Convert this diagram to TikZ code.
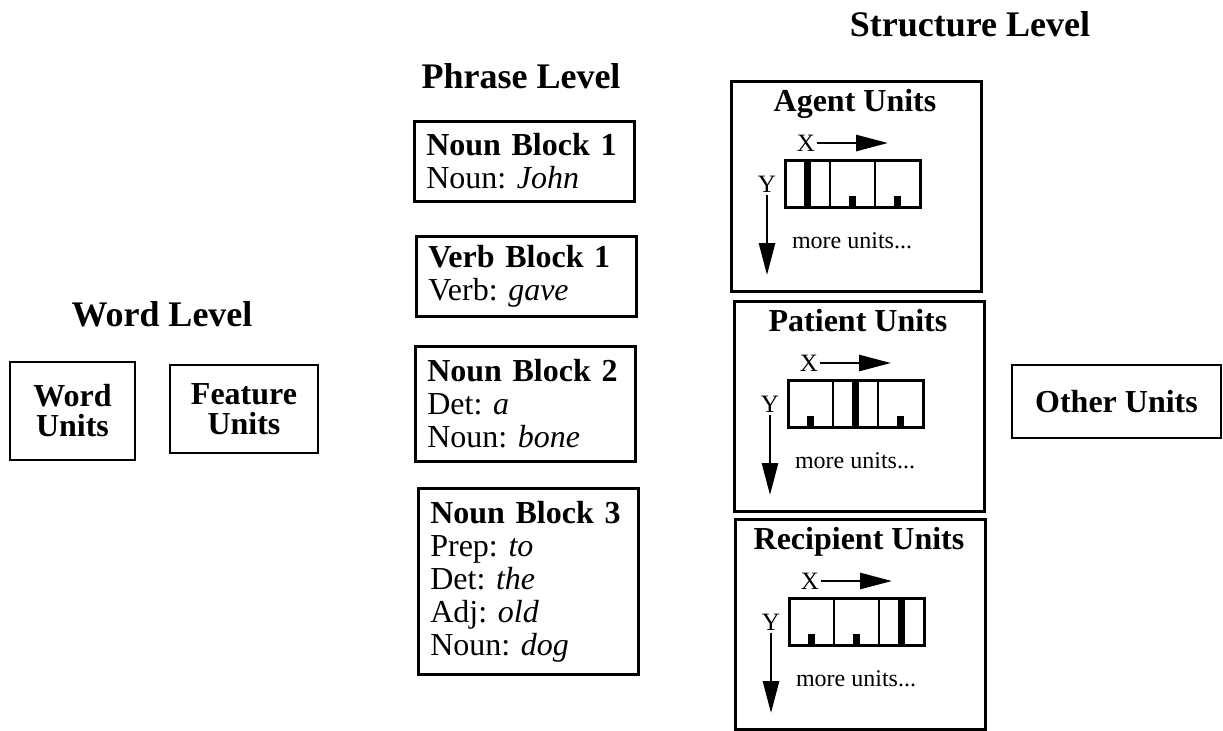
\documentclass[tikz,border=0pt]{standalone}
\usepackage{fontspec}
\setmainfont{Liberation Serif}
\usetikzlibrary{arrows.meta,positioning}
\frenchspacing

\newcommand{\bodysize}{\fontsize{16}{16.5}\selectfont}
\newcommand{\headsize}{\fontsize{18}{20}\selectfont\bfseries}

% one role block of the structure level: name, corner, title, tall cell
\newcommand{\roleunits}[5]{%
\begin{scope}[shift={(#2,#3)}]
  \node[rolebox, anchor=north west] (#1) at (0,0) {};
  \node[boxtitle, anchor=base] (#1-title) at (125,31) {#4};
  \node[axislabel] (#1-x) at (76,63) {X};
  \coordinate (#1-xend) at (158,63);
  \draw[axisarrow] (#1-x) -- (#1-xend);
  \node[axislabel] (#1-y) at (37,104) {Y};
  \coordinate (#1-yend) at (37,195);
  \draw[axisarrow] (#1-y) -- (#1-yend);
  \foreach \c in {0,1,2} {
    \draw[line width=0.8pt] (55+45*\c,80) rectangle (100+45*\c,127);
    \ifnum\c=#5
      \fill (74+45*\c,80) rectangle (81+45*\c,127);
    \else
      \fill (74+45*\c,116) rectangle (81+45*\c,127);
    \fi
  }
  \draw[line width=1.5pt] (55,80) rectangle (190,127);
  \node[moretext] (#1-more) at (122,161) {more units...};
\end{scope}}

\begin{document}
\begin{tikzpicture}[x=0.5pt, y=-0.5pt,
  level/.style={font=\headsize},
  unitbox/.style={draw, line width=1.3pt, align=center, font=\bodysize\bfseries, inner sep=0pt},
  phrasebox/.style={draw, line width=1.3pt, anchor=north west, align=left, text width=98pt,
    inner xsep=6pt, inner ysep=4pt, font=\bodysize},
  rolebox/.style={draw, line width=1.3pt, minimum width=125pt, minimum height=105pt, inner sep=0pt},
  boxtitle/.style={font=\bodysize\bfseries, inner sep=0pt},
  axislabel/.style={font=\fontsize{12.5}{12.5}\selectfont, inner sep=1pt},
  axisarrow/.style={line width=1.4pt, -{Triangle[length=16pt, width=8pt]}},
  moretext/.style={font=\fontsize{12}{12}\selectfont, inner sep=0pt}]
\useasboundingbox (0,0) rectangle (1223,730);

% word level
\node[level] (wordlvl) at (162,314) {Word Level};
\node[unitbox, font=\fontsize{16}{15}\selectfont\bfseries, minimum width=62.5pt, minimum height=49pt] (wordunits) at (72.5,411) {Word\\Units};
\node[unitbox, font=\fontsize{16}{15}\selectfont\bfseries, minimum width=74pt, minimum height=44pt] (featunits) at (244,409) {Feature\\Units};

% phrase level
\node[level] (phraselvl) at (521,76) {Phrase Level};
\node[phrasebox, minimum height=40pt] (nb1) at (413,120) {\textbf{Noun Block 1}\\Noun: \textit{John}};
\node[phrasebox, minimum height=40pt] (vb1) at (415,235) {\textbf{Verb Block 1}\\Verb: \textit{gave}};
\node[phrasebox, minimum height=57.5pt] (nb2) at (414,345) {\textbf{Noun Block 2}\\Det: \textit{a}\\Noun: \textit{bone}};
\node[phrasebox, minimum height=93pt] (nb3) at (417,487) {\textbf{Noun Block 3}\\Prep: \textit{to}\\Det: \textit{the}\\Adj: \textit{old}\\Noun: \textit{dog}};

% structure level
\node[level] (structlvl) at (970,24) {Structure Level};
\roleunits{agent}{730}{80}{Agent Units}{0}
\roleunits{patient}{733}{300}{Patient Units}{1}
\roleunits{recipient}{734}{518}{Recipient Units}{2}

\node[unitbox, minimum width=104.5pt, minimum height=36.5pt] (other) at (1116.5,401.5) {Other Units};
\end{tikzpicture}
\end{document}
